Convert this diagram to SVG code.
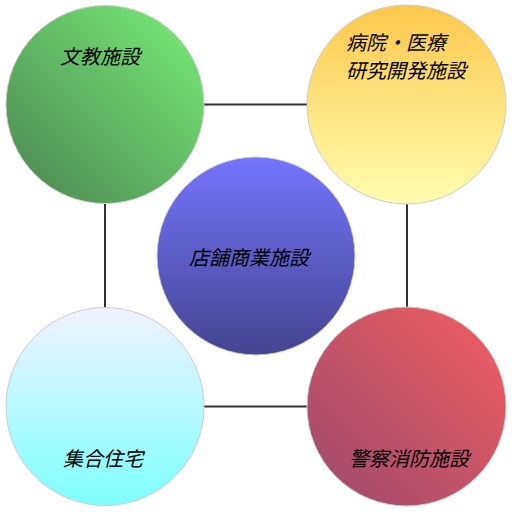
<svg xmlns="http://www.w3.org/2000/svg" width="512" height="512" viewBox="0 0 512 512">
<defs>
<linearGradient id="gGreen" x1="1" y1="0" x2="0" y2="1"><stop offset="0" stop-color="#7aee78"/><stop offset="1" stop-color="#4a8450"/></linearGradient>
<linearGradient id="gYellow" x1="0" y1="0" x2="0" y2="1"><stop offset="0" stop-color="#fdc84c"/><stop offset="1" stop-color="#fffdb0"/></linearGradient>
<linearGradient id="gBlue" x1="0" y1="0" x2="0" y2="1"><stop offset="0" stop-color="#7474fe"/><stop offset="1" stop-color="#454590"/></linearGradient>
<linearGradient id="gCyan" x1="0" y1="0" x2="0" y2="1"><stop offset="0" stop-color="#f2f2ff"/><stop offset="1" stop-color="#7dffff"/></linearGradient>
<linearGradient id="gRed" x1="1" y1="0" x2="0" y2="1"><stop offset="0" stop-color="#f45e60"/><stop offset="1" stop-color="#9a4a70"/></linearGradient>
</defs>
<style>
.node circle{stroke:#cccccc;stroke-width:1}
.lbl{font-family:"Noto Sans CJK JP","Noto Sans CJK SC",sans-serif;font-size:20px;font-style:italic;fill:#000}
.conn line{stroke:#333333;stroke-width:2}
</style>
<rect width="512" height="512" fill="#ffffff"/>
<g id="connectors" class="conn">
<line x1="204" y1="104.5" x2="307" y2="104.5"/>
<line x1="105" y1="204" x2="105" y2="307"/>
<line x1="407" y1="204" x2="407" y2="307"/>
<line x1="204" y1="406.5" x2="307" y2="406.5"/>
</g>
<g id="bunkyo" class="node"><circle cx="105" cy="104.5" r="99" fill="url(#gGreen)"/><text class="lbl" x="60" y="64">文教施設</text></g>
<g id="byoin" class="node"><circle cx="406.5" cy="104.5" r="99.5" fill="url(#gYellow)"/><text class="lbl" x="346" y="50">病院・医療</text><text class="lbl" x="346" y="78">研究開発施設</text></g>
<g id="tenpo" class="node"><circle cx="256" cy="256" r="99" fill="url(#gBlue)"/><text class="lbl" x="189" y="265">店舗商業施設</text></g>
<g id="shugo" class="node"><circle cx="105" cy="406.5" r="99" fill="url(#gCyan)"/><text class="lbl" x="63" y="466">集合住宅</text></g>
<g id="keisatsu" class="node"><circle cx="406.5" cy="406.5" r="99.5" fill="url(#gRed)"/><text class="lbl" x="349" y="466">警察消防施設</text></g>
</svg>
